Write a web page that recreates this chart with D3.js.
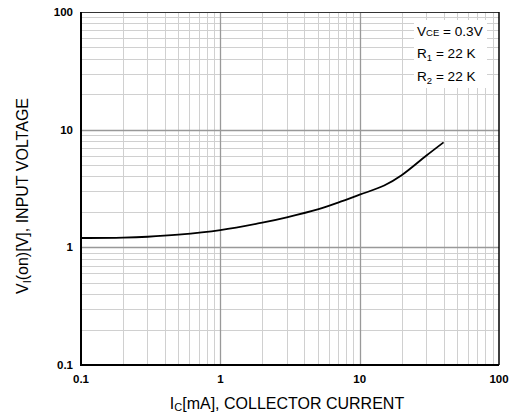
<!DOCTYPE html>
<html>
<head>
<meta charset="utf-8">
<script src="https://cdn.jsdelivr.net/npm/d3@7"></script>
<style>
  body { margin: 0; background: #fff; }
  text { font-family: Arial, "Liberation Sans", sans-serif; }
</style>
</head>
<body>
<svg id="chart" width="514" height="419"></svg>
<script>
// collector current (mA) and input voltage (V)
var current = [0.1, 0.2, 0.3, 0.5, 1, 2, 3, 5, 7, 10, 15, 20, 30, 40];
var voltage = [1.2, 1.21, 1.23, 1.28, 1.4, 1.62, 1.8, 2.1, 2.4, 2.8, 3.35, 4.1, 6.0, 7.8];
var tickValues = [0.1, 1, 10, 100];
var tickLabels = ["0.1", "1", "10", "100"];

var svg = d3.select("#chart");
var pl = 81, pr = 499, pt = 12, pb = 365;

var x = d3.scaleLog().domain([0.1, 100]).range([pl, pr]);
var y = d3.scaleLog().domain([0.1, 100]).range([pb, pt]);

// minor grid values (2..9 in each decade)
var minor = [];
[0.1, 1, 10].forEach(function(d) {
  for (var k = 2; k <= 9; k++) minor.push(d * k);
});

var grid = svg.append("g");
grid.selectAll(".vminor").data(minor).enter().append("line")
  .attr("x1", function(d) { return Math.round(x(d)) + 0.5; })
  .attr("x2", function(d) { return Math.round(x(d)) + 0.5; })
  .attr("y1", pt).attr("y2", pb)
  .attr("stroke", "#d0d0d0").attr("stroke-width", 1);
grid.selectAll(".hminor").data(minor).enter().append("line")
  .attr("y1", function(d) { return Math.round(y(d)) + 0.5; })
  .attr("y2", function(d) { return Math.round(y(d)) + 0.5; })
  .attr("x1", pl).attr("x2", pr)
  .attr("stroke", "#d0d0d0").attr("stroke-width", 1);
grid.selectAll(".vmajor").data([1, 10]).enter().append("line")
  .attr("x1", function(d) { return Math.round(x(d)) + 0.5; })
  .attr("x2", function(d) { return Math.round(x(d)) + 0.5; })
  .attr("y1", pt).attr("y2", pb)
  .attr("stroke", "#999").attr("stroke-width", 1.3);
grid.selectAll(".hmajor").data([1, 10]).enter().append("line")
  .attr("y1", function(d) { return Math.round(y(d)) + 0.5; })
  .attr("y2", function(d) { return Math.round(y(d)) + 0.5; })
  .attr("x1", pl).attr("x2", pr)
  .attr("stroke", "#999").attr("stroke-width", 1.3);

// frame
svg.append("line").attr("x1", pl).attr("x2", pr).attr("y1", pt + 0.5).attr("y2", pt + 0.5)
  .attr("stroke", "#333").attr("stroke-width", 1);
svg.append("line").attr("x1", pr).attr("x2", pr).attr("y1", pt).attr("y2", pb)
  .attr("stroke", "#000").attr("stroke-width", 1.5);
svg.append("line").attr("x1", pl).attr("x2", pl).attr("y1", pt).attr("y2", pb + 1)
  .attr("stroke", "#000").attr("stroke-width", 2);
svg.append("line").attr("x1", pl - 1).attr("x2", pr).attr("y1", pb).attr("y2", pb)
  .attr("stroke", "#000").attr("stroke-width", 2);

// curve
var pts = current.map(function(c, i) { return [c, voltage[i]]; });
var line = d3.line()
  .x(function(d) { return x(d[0]); })
  .y(function(d) { return y(d[1]); })
  .curve(d3.curveCatmullRom);
svg.append("path").datum(pts).attr("d", line)
  .attr("fill", "none").attr("stroke", "#000").attr("stroke-width", 1.8);

// tick labels
svg.selectAll(".ylab").data(tickValues).enter().append("text")
  .attr("x", pl - 8).attr("y", function(d) { return y(d) + 4; })
  .attr("text-anchor", "end").attr("font-size", 11.5).attr("font-weight", "bold")
  .text(function(d, i) { return tickLabels[i]; });
svg.selectAll(".xlab").data(tickValues).enter().append("text")
  .attr("x", function(d) { return x(d); }).attr("y", pb + 18)
  .attr("text-anchor", "middle").attr("font-size", 11.5).attr("font-weight", "bold")
  .text(function(d, i) { return tickLabels[i]; });

// legend box
svg.append("rect").attr("x", 414).attr("y", 20).attr("width", 73).attr("height", 68).attr("fill", "#fff");
var leg = svg.append("g").attr("font-size", 13.6);
var t1 = leg.append("text").attr("x", 417).attr("y", 36);
t1.append("tspan").text("V");
t1.append("tspan").attr("font-size", 9.5).text("CE");
t1.append("tspan").text(" = 0.3V");
var t2 = leg.append("text").attr("x", 417).attr("y", 58);
t2.append("tspan").text("R");
t2.append("tspan").attr("font-size", 9.5).attr("dy", 3).text("1");
t2.append("tspan").attr("dy", -3).text(" = 22 K");
var t3 = leg.append("text").attr("x", 417).attr("y", 81);
t3.append("tspan").text("R");
t3.append("tspan").attr("font-size", 9.5).attr("dy", 3).text("2");
t3.append("tspan").attr("dy", -3).text(" = 22 K");

// axis titles
var xt = svg.append("text").attr("x", 287).attr("y", 409).attr("text-anchor", "middle").attr("font-size", 16);
xt.append("tspan").text("I");
xt.append("tspan").attr("font-size", 11).attr("dy", 2).text("C");
xt.append("tspan").attr("dy", -2).text("[mA], COLLECTOR CURRENT");

var yt = svg.append("text").attr("transform", "translate(28,196) rotate(-90)")
  .attr("text-anchor", "middle").attr("font-size", 16);
yt.append("tspan").text("V");
yt.append("tspan").attr("font-size", 11).attr("dy", 3).text("I");
yt.append("tspan").attr("dy", -3).text("(on)[V], INPUT VOLTAGE");
</script>
</body>
</html>
